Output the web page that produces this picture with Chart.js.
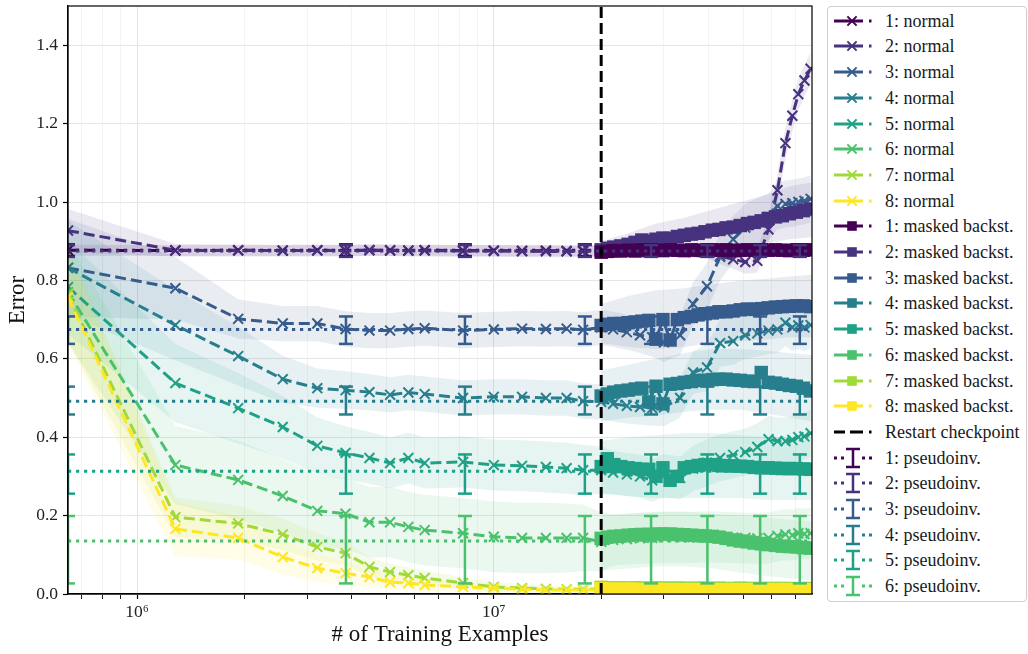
<!DOCTYPE html>
<html>
<head>
<meta charset="utf-8">
<script src="https://cdn.jsdelivr.net/npm/chart.js@4/dist/chart.umd.min.js"></script>
<style>
  html, body { margin: 0; padding: 0; background: #fff; }
  #wrap { position: relative; width: 1028px; height: 654px; overflow: hidden; }
  #plot { position: absolute; left: 0; top: 0; }
  #legend {
    position: absolute; left: 827px; top: 6px; width: 200px; height: 596px;
    box-sizing: border-box; border: 1px solid #cfcfcf; border-radius: 4px; background: #fff;
    font-family: "Liberation Serif", "Times New Roman", Times, serif; font-size: 18px; color: #1a1a1a;
  }
  .row { position: absolute; left: 0; width: 100%; height: 26px; }
  .row canvas { position: absolute; left: 6px; top: 2px; }
  .row span { position: absolute; left: 57px; top: 0; line-height: 26px; white-space: nowrap; }
</style>
</head>
<body>
<div id="wrap">
  <canvas id="plot" width="820" height="654"></canvas>
  <div id="legend"></div>
</div>
<script>
// ---------------- data ----------------
const seriesIds = ['1', '2', '3', '4', '5', '6', '7', '8'];
const palette = ['#440154', '#46327e', '#365c8d', '#277f8e', '#1fa187', '#4ac16d', '#a0da39', '#fde725'];

// training examples at which the "normal" runs were evaluated
const normalSteps = [6.4e5, 1.28e6, 1.92e6, 2.56e6, 3.2e6, 3.84e6, 4.48e6, 5.12e6, 5.76e6, 6.4e6, 8.2e6, 1.0e7, 1.2e7, 1.4e7, 1.6e7, 1.78e7, 2.0e7,
  2.16e7, 2.36e7, 2.57e7, 2.78e7, 3.0e7, 3.33e7, 3.62e7, 3.96e7, 4.31e7, 4.69e7, 5.07e7, 5.48e7, 5.89e7, 6.24e7, 6.57e7, 6.87e7, 7.14e7, 7.43e7, 7.73e7];

const normal1 = [0.877, 0.876, 0.877, 0.876, 0.877, 0.876, 0.877, 0.876, 0.876, 0.877, 0.876, 0.876, 0.875, 0.876, 0.875, 0.876, 0.875,
  0.876, 0.877, 0.876, 0.877, 0.876, 0.877, 0.877, 0.876, 0.877, 0.878, 0.877, 0.878, 0.877, 0.878, 0.877, 0.878, 0.878, 0.877, 0.878];
const normal2 = [0.927, 0.877, 0.876, 0.876, 0.876, 0.876, 0.877, 0.877, 0.876, 0.876, 0.875, 0.875, 0.875, 0.874, 0.874, 0.874, 0.874,
  0.875, 0.876, 0.875, 0.874, 0.875, 0.874, 0.873, 0.872, 0.862, 0.854, 0.847, 0.850, 0.930, 1.030, 1.150, 1.220, 1.275, 1.310, 1.340];
const normal3 = [0.832, 0.780, 0.702, 0.690, 0.690, 0.676, 0.672, 0.672, 0.676, 0.678, 0.672, 0.675, 0.677, 0.676, 0.677, 0.674, 0.680,
  0.675, 0.668, 0.660, 0.655, 0.642, 0.660, 0.740, 0.785, 0.860, 0.905, 0.935, 0.950, 0.962, 0.990, 0.995, 0.997, 1.000, 1.003, 1.008];
const normal4 = [0.832, 0.686, 0.607, 0.548, 0.525, 0.520, 0.515, 0.508, 0.514, 0.510, 0.500, 0.503, 0.503, 0.500, 0.500, 0.492, 0.490,
  0.485, 0.480, 0.477, 0.474, 0.476, 0.500, 0.565, 0.578, 0.640, 0.645, 0.660, 0.665, 0.672, 0.675, 0.692, 0.680, 0.685, 0.680, 0.686];
const normal5 = [0.783, 0.538, 0.474, 0.426, 0.378, 0.360, 0.347, 0.334, 0.347, 0.334, 0.337, 0.329, 0.327, 0.324, 0.321, 0.316, 0.316,
  0.310, 0.305, 0.300, 0.290, 0.302, 0.296, 0.320, 0.335, 0.347, 0.355, 0.362, 0.375, 0.395, 0.390, 0.390, 0.393, 0.400, 0.402, 0.410];
const normal6 = [0.770, 0.329, 0.291, 0.250, 0.212, 0.205, 0.183, 0.183, 0.171, 0.163, 0.155, 0.146, 0.143, 0.143, 0.143, 0.143, 0.133,
  0.138, 0.140, 0.142, 0.143, 0.145, 0.145, 0.145, 0.146, 0.145, 0.144, 0.143, 0.142, 0.143, 0.148, 0.152, 0.150, 0.155, 0.153, 0.155];
const normal7 = [0.765, 0.196, 0.180, 0.152, 0.120, 0.104, 0.069, 0.056, 0.048, 0.041, 0.028, 0.018, 0.015, 0.013, 0.012, 0.012, 0.012,
  0.012, 0.012, 0.011, 0.011, 0.012, 0.011, 0.011, 0.011, 0.010, 0.011, 0.010, 0.010, 0.010, 0.010, 0.010, 0.010, 0.010, 0.010, 0.010];
const normal8 = [0.757, 0.166, 0.143, 0.094, 0.066, 0.053, 0.043, 0.030, 0.028, 0.023, 0.018, 0.015, 0.012, 0.010, 0.010, 0.010, 0.010,
  0.009, 0.009, 0.009, 0.009, 0.008, 0.008, 0.008, 0.008, 0.008, 0.008, 0.008, 0.008, 0.008, 0.008, 0.008, 0.008, 0.008, 0.008, 0.008];

// spread (one standard deviation) of the normal runs
const normalSpread1 = [0.014, 0.014, 0.014, 0.014, 0.014, 0.014, 0.014, 0.014, 0.014, 0.014, 0.014, 0.014, 0.014, 0.014, 0.014, 0.014, 0.014,
  0.014, 0.014, 0.014, 0.014, 0.014, 0.014, 0.014, 0.014, 0.014, 0.014, 0.014, 0.014, 0.014, 0.014, 0.014, 0.014, 0.014, 0.014, 0.014];
const normalSpread2 = [0.055, 0.016, 0.015, 0.015, 0.015, 0.015, 0.015, 0.015, 0.015, 0.015, 0.015, 0.015, 0.015, 0.015, 0.015, 0.015, 0.015,
  0.015, 0.015, 0.015, 0.015, 0.015, 0.015, 0.015, 0.016, 0.020, 0.025, 0.030, 0.030, 0.035, 0.040, 0.040, 0.040, 0.040, 0.040, 0.040];
const normalSpread3 = [0.125, 0.080, 0.050, 0.045, 0.045, 0.045, 0.045, 0.045, 0.045, 0.045, 0.045, 0.045, 0.045, 0.045, 0.045, 0.045, 0.045,
  0.045, 0.045, 0.045, 0.050, 0.050, 0.050, 0.055, 0.060, 0.060, 0.060, 0.060, 0.060, 0.060, 0.060, 0.060, 0.060, 0.060, 0.060, 0.060];
const normalSpread4 = [0.120, 0.090, 0.075, 0.060, 0.050, 0.048, 0.046, 0.045, 0.045, 0.045, 0.045, 0.045, 0.045, 0.045, 0.045, 0.045, 0.045,
  0.045, 0.045, 0.045, 0.045, 0.048, 0.050, 0.055, 0.060, 0.060, 0.060, 0.060, 0.060, 0.060, 0.060, 0.060, 0.060, 0.060, 0.060, 0.060];
const normalSpread5 = [0.120, 0.100, 0.090, 0.080, 0.072, 0.068, 0.066, 0.065, 0.065, 0.065, 0.065, 0.065, 0.065, 0.065, 0.065, 0.065, 0.060,
  0.055, 0.055, 0.055, 0.055, 0.055, 0.055, 0.058, 0.060, 0.060, 0.060, 0.060, 0.060, 0.060, 0.060, 0.060, 0.060, 0.060, 0.060, 0.060];
const normalSpread6 = [0.130, 0.100, 0.100, 0.095, 0.092, 0.090, 0.090, 0.090, 0.090, 0.090, 0.090, 0.090, 0.090, 0.090, 0.088, 0.085, 0.075,
  0.065, 0.065, 0.065, 0.065, 0.065, 0.065, 0.065, 0.065, 0.065, 0.065, 0.065, 0.065, 0.065, 0.065, 0.065, 0.065, 0.065, 0.065, 0.065];
const normalSpread7 = [0.120, 0.050, 0.045, 0.040, 0.035, 0.030, 0.025, 0.022, 0.020, 0.018, 0.015, 0.012, 0.010, 0.010, 0.008, 0.008, 0.008,
  0.006, 0.006, 0.006, 0.006, 0.006, 0.006, 0.006, 0.006, 0.006, 0.006, 0.006, 0.006, 0.006, 0.006, 0.006, 0.006, 0.006, 0.006, 0.006];
const normalSpread8 = [0.120, 0.070, 0.055, 0.045, 0.035, 0.030, 0.025, 0.020, 0.018, 0.015, 0.012, 0.010, 0.008, 0.008, 0.007, 0.007, 0.007,
  0.005, 0.005, 0.005, 0.005, 0.005, 0.005, 0.005, 0.005, 0.005, 0.005, 0.005, 0.005, 0.005, 0.005, 0.005, 0.005, 0.005, 0.005, 0.005];

// training examples logged by the masked-backstitch runs after the restart
const maskedSteps = [2.0e7, 2.08e7, 2.17e7, 2.27e7, 2.38e7, 2.49e7, 2.6e7, 2.72e7, 2.85e7, 2.98e7, 3.12e7, 3.27e7, 3.42e7, 3.58e7, 3.74e7, 3.91e7,
  4.1e7, 4.28e7, 4.48e7, 4.69e7, 4.91e7, 5.14e7, 5.37e7, 5.62e7, 5.88e7, 6.16e7, 6.44e7, 6.74e7, 7.05e7, 7.38e7, 7.72e7];

const masked1 = [0.872, 0.874, 0.876, 0.875, 0.877, 0.875, 0.878, 0.876, 0.877, 0.876, 0.878, 0.877, 0.876, 0.878, 0.877, 0.876,
  0.878, 0.877, 0.878, 0.876, 0.877, 0.878, 0.877, 0.878, 0.877, 0.878, 0.877, 0.876, 0.878, 0.877, 0.878];
const masked2 = [0.878, 0.882, 0.885, 0.888, 0.892, 0.897, 0.903, 0.900, 0.905, 0.908, 0.907, 0.912, 0.915, 0.918, 0.920, 0.924,
  0.928, 0.930, 0.934, 0.936, 0.940, 0.945, 0.948, 0.952, 0.958, 0.962, 0.965, 0.970, 0.974, 0.978, 0.982];
const masked3 = [0.685, 0.688, 0.690, 0.690, 0.692, 0.694, 0.696, 0.698, 0.650, 0.700, 0.648, 0.700, 0.705, 0.708, 0.712, 0.715,
  0.717, 0.720, 0.720, 0.722, 0.725, 0.727, 0.726, 0.728, 0.730, 0.732, 0.733, 0.734, 0.735, 0.735, 0.733];
const masked4 = [0.505, 0.510, 0.515, 0.518, 0.520, 0.523, 0.525, 0.490, 0.530, 0.485, 0.535, 0.537, 0.540, 0.542, 0.545, 0.545,
  0.547, 0.548, 0.548, 0.546, 0.545, 0.543, 0.542, 0.565, 0.540, 0.538, 0.535, 0.532, 0.530, 0.525, 0.518];
const masked5 = [0.325, 0.345, 0.330, 0.325, 0.322, 0.320, 0.318, 0.318, 0.300, 0.322, 0.290, 0.300, 0.322, 0.325, 0.328, 0.330,
  0.330, 0.328, 0.327, 0.327, 0.326, 0.325, 0.323, 0.322, 0.322, 0.321, 0.320, 0.320, 0.320, 0.319, 0.318];
const masked6 = [0.142, 0.145, 0.147, 0.148, 0.150, 0.151, 0.152, 0.152, 0.153, 0.153, 0.153, 0.152, 0.151, 0.150, 0.149, 0.148,
  0.147, 0.145, 0.142, 0.138, 0.135, 0.133, 0.130, 0.128, 0.126, 0.124, 0.122, 0.121, 0.120, 0.118, 0.117];
const masked7 = [0.017, 0.016, 0.016, 0.016, 0.015, 0.016, 0.015, 0.015, 0.016, 0.015, 0.015, 0.015, 0.015, 0.014, 0.015, 0.015,
  0.014, 0.015, 0.014, 0.014, 0.015, 0.014, 0.014, 0.014, 0.014, 0.014, 0.014, 0.014, 0.013, 0.014, 0.014];
const masked8 = [0.013, 0.012, 0.012, 0.012, 0.012, 0.012, 0.011, 0.011, 0.012, 0.011, 0.011, 0.011, 0.011, 0.011, 0.011, 0.011,
  0.011, 0.011, 0.011, 0.011, 0.011, 0.011, 0.011, 0.011, 0.011, 0.011, 0.011, 0.011, 0.011, 0.011, 0.011];

// spread of the masked-backstitch runs
const maskedBandSteps = [2.0e7, 2.38e7, 2.85e7, 3.42e7, 4.1e7, 4.91e7, 5.88e7, 6.74e7, 7.8e7];
const maskedLow1 = [0.863, 0.864, 0.864, 0.865, 0.865, 0.865, 0.866, 0.866, 0.866];
const maskedHigh1 = [0.889, 0.890, 0.890, 0.891, 0.891, 0.892, 0.892, 0.892, 0.893];
const maskedLow2 = [0.860, 0.865, 0.870, 0.875, 0.880, 0.885, 0.895, 0.905, 0.910];
const maskedHigh2 = [0.900, 0.920, 0.945, 0.960, 0.980, 1.000, 1.020, 1.040, 1.050];
const maskedLow3 = [0.640, 0.630, 0.625, 0.630, 0.640, 0.645, 0.650, 0.655, 0.655];
const maskedHigh3 = [0.740, 0.760, 0.775, 0.780, 0.790, 0.800, 0.805, 0.810, 0.815];
const maskedLow4 = [0.440, 0.450, 0.455, 0.465, 0.470, 0.470, 0.460, 0.450, 0.440];
const maskedHigh4 = [0.570, 0.585, 0.600, 0.615, 0.625, 0.625, 0.620, 0.615, 0.610];
const maskedLow5 = [0.255, 0.250, 0.245, 0.245, 0.245, 0.245, 0.240, 0.240, 0.240];
const maskedHigh5 = [0.390, 0.400, 0.405, 0.410, 0.410, 0.405, 0.400, 0.400, 0.400];
const maskedLow6 = [0.060, 0.065, 0.070, 0.070, 0.065, 0.055, 0.045, 0.040, 0.035];
const maskedHigh6 = [0.200, 0.205, 0.210, 0.210, 0.205, 0.200, 0.195, 0.190, 0.185];
const maskedLow7 = [0.008, 0.008, 0.008, 0.008, 0.008, 0.008, 0.008, 0.008, 0.008];
const maskedHigh7 = [0.025, 0.025, 0.025, 0.024, 0.024, 0.024, 0.024, 0.024, 0.024];
const maskedLow8 = [0.006, 0.006, 0.006, 0.006, 0.006, 0.006, 0.006, 0.006, 0.006];
const maskedHigh8 = [0.018, 0.018, 0.018, 0.018, 0.018, 0.018, 0.018, 0.018, 0.018];

// pseudo-inverse baseline: level, error-bar bounds, and where the bars are drawn
const pseudoLevel = [0.877, 0.875, 0.675, 0.492, 0.313, 0.135];
const pseudoLow = [0.862, 0.860, 0.638, 0.458, 0.256, 0.027];
const pseudoHigh = [0.892, 0.890, 0.708, 0.529, 0.356, 0.199];
const pseudoBarSteps = [6.4e5, 3.85e6, 8.3e6, 1.8e7, 2.76e7, 3.97e7, 5.58e7, 7.21e7];

const restartStep = 2.0e7;
const xTickValues = [7e5, 8e5, 9e5, 1e6, 2e6, 3e6, 4e6, 5e6, 6e6, 7e6, 8e6, 9e6, 1e7, 2e7, 3e7, 4e7, 5e7, 6e7, 7e7];
const yTickValues = [0, 0.2, 0.4, 0.6, 0.8, 1.0, 1.2, 1.4];

// ---------------- build ----------------
const normalSeries = [normal1, normal2, normal3, normal4, normal5, normal6, normal7, normal8];
const normalSpreads = [normalSpread1, normalSpread2, normalSpread3, normalSpread4, normalSpread5, normalSpread6, normalSpread7, normalSpread8];
const maskedSeries = [masked1, masked2, masked3, masked4, masked5, masked6, masked7, masked8];
const maskedLows = [maskedLow1, maskedLow2, maskedLow3, maskedLow4, maskedLow5, maskedLow6, maskedLow7, maskedLow8];
const maskedHighs = [maskedHigh1, maskedHigh2, maskedHigh3, maskedHigh4, maskedHigh5, maskedHigh6, maskedHigh7, maskedHigh8];

const FONT = '"Liberation Serif", "Times New Roman", Times, serif';
const X_MIN = 6.4e5, X_MAX = 7.8e7;

function rgba(hex, a) {
  const n = parseInt(hex.slice(1), 16);
  return `rgba(${(n >> 16) & 255}, ${(n >> 8) & 255}, ${n & 255}, ${a})`;
}
const pts = (xs, ys) => xs.map((x, i) => ({ x, y: ys[i] }));

const datasets = [];

// shaded spreads (bottom layer)
function addBand(xs, hi, lo, color, order) {
  const common = { pointRadius: 0, borderWidth: 0, borderColor: 'transparent', showLine: true, clip: 0, order };
  datasets.push({ ...common, data: pts(xs, hi), fill: false });
  datasets.push({ ...common, data: pts(xs, lo), fill: '-1', backgroundColor: rgba(color, 0.11) });
}
normalSeries.forEach((vals, i) => {
  const s = normalSpreads[i];
  addBand(normalSteps, vals.map((v, k) => v + s[k]), vals.map((v, k) => v - s[k]), palette[i], 600 - i);
});
maskedSeries.forEach((_, i) => addBand(maskedBandSteps, maskedHighs[i], maskedLows[i], palette[i], 550 - i));

// masked backstitch runs: solid lines with square markers (run 1 stays on top)
maskedSeries.forEach((vals, i) => {
  datasets.push({
    label: `${seriesIds[i]}: masked backst.`, data: pts(maskedSteps, vals),
    borderColor: palette[i], backgroundColor: palette[i], borderWidth: 3,
    pointStyle: 'rect', pointRadius: 9.5, pointBorderWidth: 0, pointBackgroundColor: palette[i],
    fill: false, clip: 0, order: i === 0 ? 290 : 300 - i
  });
});

// normal runs: dashed lines with x markers
normalSeries.forEach((vals, i) => {
  datasets.push({
    label: `${seriesIds[i]}: normal`, data: pts(normalSteps, vals),
    borderColor: palette[i], backgroundColor: palette[i], borderWidth: 3, borderDash: [11, 5],
    pointStyle: 'crossRot', pointRadius: 7, pointBorderWidth: 2, pointBorderColor: palette[i],
    fill: false, clip: 0, order: 400 - i
  });
});

// pseudo-inverse baselines: dotted levels plus error bars
pseudoLevel.forEach((lvl, i) => {
  datasets.push({
    label: `${seriesIds[i]}: pseudoinv.`, data: [{ x: X_MIN, y: lvl }, { x: X_MAX, y: lvl }],
    borderColor: palette[i], borderWidth: 3, borderDash: [3.2, 4.8], pointRadius: 0, fill: false, clip: 0, order: 200 - i
  });
  const bars = [];
  pseudoBarSteps.forEach(x => { bars.push({ x, y: pseudoLow[i] }, { x, y: pseudoHigh[i] }, { x, y: null }); });
  datasets.push({
    data: bars, borderColor: palette[i], borderWidth: 2.5, pointStyle: 'line', pointRadius: 7,
    pointBorderWidth: 2.5, pointBorderColor: palette[i], spanGaps: false, fill: false, clip: 0, order: 190 - i
  });
});

// checkpoint marker
datasets.push({
  label: 'Restart checkpoint', data: [{ x: restartStep, y: 0 }, { x: restartStep, y: 1.5 }],
  borderColor: '#000', borderWidth: 3, borderDash: [11, 5], pointRadius: 0, fill: false, clip: 0, order: 10
});

const isPow10 = v => { const e = Math.log10(v); return Math.abs(e - Math.round(e)) < 1e-6; };
const SUP = { '0': '⁰', '1': '¹', '2': '²', '3': '³', '4': '⁴', '5': '⁵', '6': '⁶', '7': '⁷', '8': '⁸', '9': '⁹' };

const frame = {
  id: 'frame',
  afterDraw(chart) {
    const { ctx, chartArea: a } = chart;
    ctx.save();
    ctx.strokeStyle = '#000';
    ctx.lineWidth = 1.2;
    ctx.strokeRect(a.left, a.top, a.right - a.left, a.bottom - a.top);
    ctx.restore();
  }
};

new Chart(document.getElementById('plot'), {
  type: 'line',
  data: { datasets },
  plugins: [frame],
  options: {
    responsive: false, animation: false, devicePixelRatio: 1, events: [],
    layout: { autoPadding: false, padding: { top: 6, right: 8, left: 0, bottom: 0 } },
    plugins: { legend: { display: false }, tooltip: { enabled: false } },
    scales: {
      x: {
        type: 'logarithmic', min: X_MIN, max: X_MAX,
        afterBuildTicks(s) { s.ticks = xTickValues.map(value => ({ value })); },
        afterFit(s) { s.height = 60; s.paddingLeft = 0; s.paddingRight = 0; },
        ticks: {
          autoSkip: false, maxRotation: 0, padding: 3, color: '#222', font: { family: FONT, size: 17.5 },
          callback(v) {
            if (!isPow10(v)) return '';
            return '10' + String(Math.round(Math.log10(v))).split('').map(d => SUP[d]).join('');
          }
        },
        grid: {
          color: c => (c.tick && isPow10(c.tick.value)) ? '#e4e4e4' : '#f3f3f3',
          lineWidth: 1, tickLength: 5, tickColor: '#000',
          tickWidth: c => (c.tick && isPow10(c.tick.value)) ? 1.2 : 0.9
        },
        border: { color: '#000', width: 1.2 },
        title: { display: true, text: '# of Training Examples', color: '#111', font: { family: FONT, size: 23 }, padding: { top: 2, bottom: 5 } }
      },
      y: {
        min: 0, max: 1.5,
        afterBuildTicks(s) { s.ticks = yTickValues.map(value => ({ value })); },
        afterFit(s) { s.width = 68; s.paddingTop = 0; s.paddingBottom = 0; },
        ticks: { padding: 5, color: '#222', font: { family: FONT, size: 17.5 }, callback: v => Number(v).toFixed(1) },
        grid: { color: '#e6e6e6', lineWidth: 1, tickLength: 5, tickColor: '#000', tickWidth: 1.2 },
        border: { color: '#000', width: 1.2 },
        title: { display: true, text: 'Error', color: '#111', font: { family: FONT, size: 23 }, padding: { top: 4, bottom: 0 } }
      }
    }
  }
});

// ---------------- legend ----------------
const legendEntries = [
  ...seriesIds.map((id, i) => ({ text: `${id}: normal`, kind: 'normal', color: palette[i] })),
  ...seriesIds.map((id, i) => ({ text: `${id}: masked backst.`, kind: 'masked', color: palette[i] })),
  { text: 'Restart checkpoint', kind: 'restart', color: '#000' },
  ...seriesIds.slice(0, 6).map((id, i) => ({ text: `${id}: pseudoinv.`, kind: 'pseudo', color: palette[i] }))
];

function drawHandle(cv, kind, color) {
  const g = cv.getContext('2d');
  const cy = 11;
  g.strokeStyle = color; g.fillStyle = color; g.lineCap = 'butt';
  const seg = (a, b) => { g.beginPath(); g.moveTo(a, cy); g.lineTo(b, cy); g.stroke(); };
  if (kind === 'normal') {
    g.lineWidth = 3; seg(0, 29); seg(35, 37.5);
    g.lineWidth = 2; const r = 4.6;
    g.beginPath(); g.moveTo(18 - r, cy - r); g.lineTo(18 + r, cy + r); g.moveTo(18 - r, cy + r); g.lineTo(18 + r, cy - r); g.stroke();
  } else if (kind === 'masked') {
    g.lineWidth = 3; seg(0, 29); seg(35, 37.5);
    g.fillRect(18 - 4.8, cy - 4.8, 9.6, 9.6);
  } else if (kind === 'restart') {
    g.lineWidth = 3; seg(0, 11); seg(16, 29); seg(35, 37.5);
  } else {
    g.lineWidth = 3; seg(0, 3); seg(7, 10); seg(28, 31); seg(35, 38);
    g.lineWidth = 2.5;
    g.beginPath(); g.moveTo(19, cy - 9); g.lineTo(19, cy + 9);
    g.moveTo(12, cy - 9); g.lineTo(26, cy - 9); g.moveTo(12, cy + 9); g.lineTo(26, cy + 9); g.stroke();
  }
}

const legendBox = document.getElementById('legend');
legendEntries.forEach((e, i) => {
  const row = document.createElement('div');
  row.className = 'row';
  row.style.top = (0.7 + 25.7 * i) + 'px';
  const cv = document.createElement('canvas');
  cv.width = 44; cv.height = 22;
  drawHandle(cv, e.kind, e.color);
  const span = document.createElement('span');
  span.textContent = e.text;
  row.appendChild(cv); row.appendChild(span);
  legendBox.appendChild(row);
});
</script>
</body>
</html>
